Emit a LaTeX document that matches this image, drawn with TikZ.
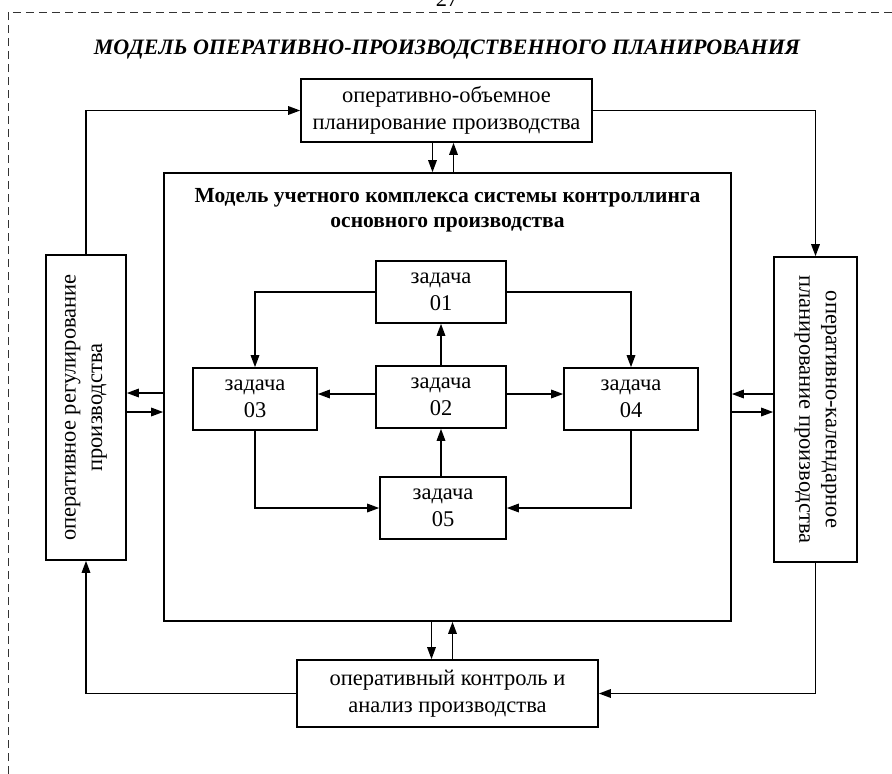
\documentclass[tikz,border=0pt]{standalone}
\usepackage{fontspec}
\setmainfont{Liberation Serif}
\usepackage{tikz}
\usetikzlibrary{arrows.meta, positioning}

\begin{document}
\begin{tikzpicture}[
  x=1pt, y=-1pt,
  >={Triangle[length=12pt, width=8.5pt]},
  every node/.style={font=\fontsize{22.5}{26.5}\selectfont},
  blk/.style={draw, line width=1.6pt, inner sep=0pt, align=center},
  tsk/.style={blk, minimum width=130pt, minimum height=62pt},
  ar/.style={->, line width=1.6pt}
]
\useasboundingbox (0,0) rectangle (892,774);
% page frame and number
\draw[line width=1pt, dash pattern=on 8pt off 5pt, black!80] (8,774) -- (8,12) -- (892,12);
\node[anchor=base] (page) at (447,6) {27};
\node[font=\fontsize{22}{26}\selectfont\bfseries\itshape] (title) at (447,50)
  {МОДЕЛЬ ОПЕРАТИВНО-ПРОИЗВОДСТВЕННОГО ПЛАНИРОВАНИЯ};

% outer blocks
\node[blk, minimum width=291pt, minimum height=63pt] (top) at (446.5,110.5)
  {оперативно-объемное\\планирование производства};
\node[blk, minimum width=301pt, minimum height=67pt] (bot) at (447.5,693.5)
  {оперативный контроль и\\анализ производства};
\node[blk, minimum width=80pt, minimum height=305pt] (lbox) at (86,407.5) {};
\node[rotate=90, align=center] (ltext) at (lbox.center)
  {оперативное регулирование\\производства};
\node[blk, minimum width=83pt, minimum height=305pt] (rbox) at (815.5,409.5) {};
\node[rotate=-90, align=center] (rtext) at (rbox.center)
  {оперативно-календарное\\планирование производства};

% accounting complex
\node[blk, minimum width=567pt, minimum height=448pt] (big) at (447.5,397) {};
\node[font=\fontsize{21.5}{25}\selectfont\bfseries, align=center] (bigt) at (447.5,210)
  {Модель учетного комплекса системы контроллинга\\основного производства};

% tasks
\node[tsk] (t1) at (441,292) {задача\\01};
\node[tsk] (t2) at (441,397) {задача\\02};
\node[tsk, minimum width=124pt] (t3) at (255,399) {задача\\03};
\node[tsk, minimum width=134pt] (t4) at (631,399) {задача\\04};
\node[tsk, minimum width=126pt] (t5) at (443,508) {задача\\05};

% outer loop
\draw[ar] (lbox.north) |- (top.west);
\draw[ar] (top.east) -| (rbox.north);
\draw[ar] (rbox.south) |- (bot.east);
\draw[ar] (bot.west) -| (lbox.south);

% exchange with the complex
\draw[ar] ([xshift=-14]top.south) -- ([xshift=-15]big.north);
\draw[ar] ([xshift=6]big.north) -- ([xshift=7]top.south);
\draw[ar] ([xshift=-16]big.south) -- ([xshift=-16]bot.north);
\draw[ar] ([xshift=5]bot.north) -- ([xshift=5]big.south);
\draw[ar] (big.west |- 0,393) -- (lbox.east |- 0,393);
\draw[ar] (lbox.east |- 0,412) -- (big.west |- 0,412);
\draw[ar] (rbox.west |- 0,394) -- (big.east |- 0,394);
\draw[ar] (big.east |- 0,412) -- (rbox.west |- 0,412);

% task links
\draw[ar] (t1.west) -| (t3.north);
\draw[ar] (t1.east) -| (t4.north);
\draw[ar] (t2) -- (t1);
\draw[ar] (t2.west |- 0,394) -- (t3.east |- 0,394);
\draw[ar] (t2.east |- 0,394) -- (t4.west |- 0,394);
\draw[ar] (t5.north -| t2) -- (t2.south);
\draw[ar] (t3.south) |- (t5.west);
\draw[ar] (t4.south) |- (t5.east);
\end{tikzpicture}
\end{document}
